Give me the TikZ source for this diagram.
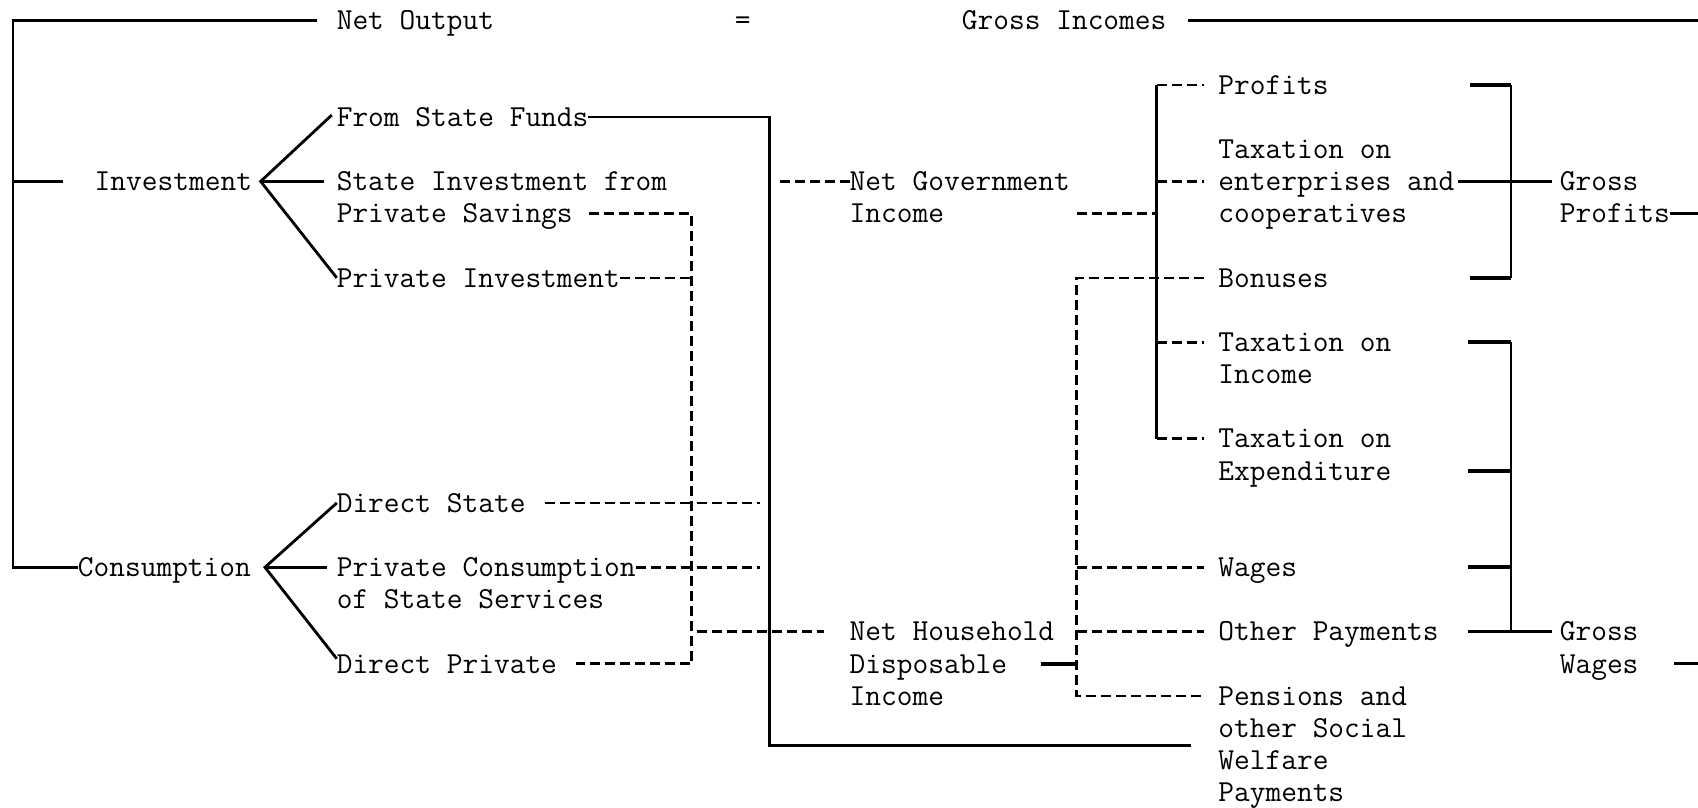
\documentclass[tikz,border=0pt]{standalone}
\begin{document}
\begin{tikzpicture}[x=8.015pt,y=-16.08pt,
  t/.style={anchor=west,inner sep=0pt,outer sep=0pt,text height=9.33pt,text depth=0pt,
    font=\fontsize{15.27pt}{16.08pt}\selectfont\ttfamily},
  ln/.style={line width=1.4pt},
  tk/.style={line width=1.8pt},
  dsh/.style={line width=1.35pt,dash pattern=on 5pt off 2.5pt}]
\useasboundingbox[fill=white] (-21.01,-0.64) rectangle (84.92,24.48);
% texts
\node[t] (no) at (0,0) {Net Output};
\node[t] (eq) at (24.83,0) {=};
\node[t] (gi) at (39,0) {Gross Incomes};
\node[t] (fsf) at (0,3) {From State Funds};
\node[t] (inv) at (-15.1,5) {Investment};
\node[t] (sif1) at (0,5) {State Investment from};
\node[t] (sif2) at (0,6) {Private Savings};
\node[t] (pin) at (0,8) {Private Investment};
\node[t] (ds) at (0,15) {Direct State};
\node[t] (con) at (-16.15,17) {Consumption};
\node[t] (pcs1) at (0,17) {Private Consumption};
\node[t] (pcs2) at (0,18) {of State Services};
\node[t] (dp) at (0,20) {Direct Private};
\node[t] (ngi1) at (32,5) {Net Government};
\node[t] (ngi2) at (32,6) {Income};
\node[t] (nhd1) at (32,19) {Net Household};
\node[t] (nhd2) at (32,20) {Disposable};
\node[t] (nhd3) at (32,21) {Income};
\node[t] (pro) at (55,2) {Profits};
\node[t] (te1) at (55,4) {Taxation on};
\node[t] (te2) at (55,5) {enterprises and};
\node[t] (te3) at (55,6) {cooperatives};
\node[t] (bon) at (55,8) {Bonuses};
\node[t] (ti1) at (55,10) {Taxation on};
\node[t] (ti2) at (55,11) {Income};
\node[t] (tx1) at (55,13) {Taxation on};
\node[t] (tx2) at (55,14) {Expenditure};
\node[t] (wag) at (55,17) {Wages};
\node[t] (oth) at (55,19) {Other Payments};
\node[t] (pen1) at (55,21) {Pensions and};
\node[t] (pen2) at (55,22) {other Social};
\node[t] (pen3) at (55,23) {Welfare};
\node[t] (pen4) at (55,24) {Payments};
\node[t] (gp1) at (76.3,5) {Gross};
\node[t] (gp2) at (76.3,6) {Profits};
\node[t] (gw1) at (76.3,19) {Gross};
\node[t] (gw2) at (76.3,20) {Wages};
% coordinates
\coordinate (noL) at (-1.25,0);
\coordinate (L0) at (-20.2,0);
\coordinate (L5) at (-20.2,5);
\coordinate (L17) at (-20.2,17);
\coordinate (invL) at (-17.1,5);
\coordinate (giR) at (53.1,0);
\coordinate (R0) at (84.92,0);
\coordinate (R6) at (84.92,6);
\coordinate (R20) at (84.92,20);
\coordinate (jI) at (-4.75,5);
\coordinate (jC) at (-4.48,17);
\coordinate (sfT) at (26.98,3);
\coordinate (sfB) at (26.98,22.53);
\coordinate (sfE) at (53.3,22.53);
\coordinate (dv6) at (22.14,6);
\coordinate (dv20) at (22.14,20);
\coordinate (a15) at (22.5,15);
\coordinate (b15) at (26.4,15);
\coordinate (a17) at (22.5,17);
\coordinate (b17) at (26.4,17);
\coordinate (a19) at (22.5,19);
\coordinate (ng0) at (27.66,5);
\coordinate (inc0) at (46.2,6);
\coordinate (gv2) at (51.15,2);
\coordinate (gv13) at (51.15,13);
\coordinate (hv8) at (46.15,8);
\coordinate (hv21) at (46.15,21);
\coordinate (pb2) at (73.25,2);
\coordinate (pb8) at (73.25,8);
\coordinate (wb10) at (73.25,10);
\coordinate (wb19) at (73.25,19);
% left frame
\draw[ln] (noL) -- (L0) -- (L17) -- (con.west);
\draw[ln] (L5) -- (invL);
\draw[ln] (giR) -- (R0);
% fans
\draw[ln] ([xshift=-2.5pt,yshift=1pt]fsf.west) -- (jI) -- (pin.west);
\draw[ln] (jI) -- ([xshift=-6.5pt]sif1.west);
\draw[ln] (ds.west) -- (jC) -- ([yshift=2.5pt]dp.west);
\draw[ln] (jC) -- ([xshift=-5pt]pcs1.west);
% state funds
\draw[ln] (fsf.east) -- (sfT) -- (sfB) -- (sfE);
% dashed collector
\draw[dsh] ([xshift=8pt]sif2.east) -- (dv6) -- (dv20) -- ([xshift=9.6pt]dp.east);
\draw[dsh] (pin.east) -- (pin.east -| dv6);
\draw[dsh] ([xshift=9.6pt]ds.east) -- (ds.east -| dv6);
\draw[dsh] (pcs1.east) -- (pcs1.east -| dv6);
\draw[dsh] (a15) -- (b15);
\draw[dsh] (a17) -- (b17);
\draw[dsh] (a19) -- ([xshift=-13pt]nhd1.west);
\draw[dsh] (ng0) -- (ngi1.west);
% government branch
\draw[dsh] (inc0) -- (inc0 -| gv2);
\draw[ln] (gv2) -- (gv13);
\draw[dsh] (gv2) -- ([xshift=-7.2pt]pro.west);
\draw[dsh] (gv2 |- te2.west) -- ([xshift=-7.2pt]te2.west);
\draw[dsh] (gv2 |- ti1.west) -- ([xshift=-7.2pt]ti1.west);
\draw[dsh] (gv13) -- ([xshift=-7.2pt]tx1.west);
% household branch
\draw[dsh] ([xshift=-7.2pt]bon.west) -- (hv8) -- (hv21) -- ([xshift=-7.2pt]pen1.west);
\draw[dsh] (hv8 |- wag.west) -- ([xshift=-7.2pt]wag.west);
\draw[dsh] (hv8 |- oth.west) -- ([xshift=-7.2pt]oth.west);
\draw[tk] ([xshift=16.8pt]nhd2.east) -- (hv8 |- nhd2.east);
% profits bracket
\draw[ln] (pb2) -- (pb8);
\draw[tk] (70.7,2) -- (pb2);
\draw[tk] (70.7,8) -- (pb8);
\draw[tk] ([xshift=1.6pt]te2.east) -- (pb2 |- te2.east);
\draw[ln] (pb2 |- te2.east) -- ([xshift=-4pt]gp1.west);
\draw[ln] (gp2.east) -- (R6);
% wages bracket
\draw[ln] (wb10) -- (wb19);
\draw[tk] (70.6,10) -- (wb10);
\draw[tk] (70.6,14) -- (73.25,14);
\draw[tk] (70.6,17) -- (73.25,17);
\draw[tk] (70.6,19) -- (wb19);
\draw[ln] (wb19) -- ([xshift=-4pt]gw1.west);
\draw[ln] ([xshift=18pt]gw2.east) -- (R20);
\end{tikzpicture}
\end{document}
